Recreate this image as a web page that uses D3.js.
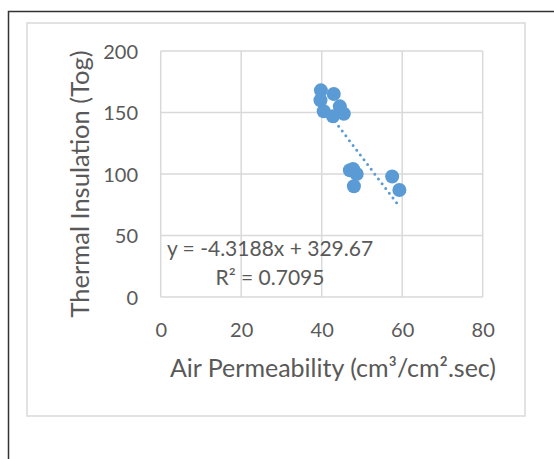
<!DOCTYPE html>
<html>
<head>
<meta charset="utf-8">
<script src="https://cdn.jsdelivr.net/npm/d3@7"></script>
<style>
  html, body { margin: 0; padding: 0; background: #fff; }
  svg { display: block; font-family: Lato, "Open Sans", sans-serif; }
</style>
</head>
<body>
<svg id="chart" width="554" height="459"></svg>
<script>
// Air permeability (cm³/cm².sec) vs thermal insulation (Tog)
const airPermeability = [39.8, 43.0, 39.7, 40.5, 44.5, 45.5, 42.8, 47.0, 47.8, 48.7, 48.0, 57.5, 59.3];
const thermalInsulation = [168, 165, 160, 151, 155, 149, 147, 103, 104, 100, 90, 98, 87];
const xTicks = [0, 20, 40, 60, 80];
const yTicks = [0, 50, 100, 150, 200];
// Linear trend line as stated in the label
const slope = -4.3188;
const intercept = 329.67;
const rSquared = 0.7095;

const svg = d3.select("#chart");
const textColor = "#595959";
const gridColor = "#d9d9d9";
const pointColor = "#5b9bd5";

// Outer frame
svg.append("path")
  .attr("d", "M8.5,470 L8.5,11.5 L560,11.5")
  .attr("fill", "none").attr("stroke", "#333").attr("stroke-width", 1.5);

// Chart area frame
svg.append("rect")
  .attr("x", 27).attr("y", 23).attr("width", 498).attr("height", 393)
  .attr("fill", "#fff").attr("stroke", gridColor).attr("stroke-width", 1.5);

const plot = { left: 160.7, right: 482.7, top: 51, bottom: 297 };
const x = d3.scaleLinear().domain([0, 80]).range([plot.left, plot.right]);
const y = d3.scaleLinear().domain([0, 200]).range([plot.bottom, plot.top]);

// Gridlines
svg.append("g").selectAll("line").data(xTicks).join("line")
  .attr("x1", d => x(d)).attr("x2", d => x(d))
  .attr("y1", plot.top).attr("y2", plot.bottom)
  .attr("stroke", gridColor).attr("stroke-width", 1.5);
svg.append("g").selectAll("line").data(yTicks).join("line")
  .attr("x1", plot.left).attr("x2", plot.right)
  .attr("y1", d => y(d)).attr("y2", d => y(d))
  .attr("stroke", gridColor).attr("stroke-width", 1.5);

// Axis tick labels
const xAxis = d3.axisBottom(x).tickValues(xTicks).tickSize(0).tickPadding(0);
const gx = svg.append("g").attr("transform", `translate(0,${plot.bottom + 33})`).call(xAxis);
gx.select(".domain").remove();
gx.selectAll("text").attr("font-size", 20).attr("fill", textColor)
  .attr("font-family", "Lato, sans-serif").attr("dy", "0.36em");

const yAxis = d3.axisLeft(y).tickValues(yTicks).tickSize(0).tickPadding(0);
const gy = svg.append("g").attr("transform", `translate(${138},0)`).call(yAxis);
gy.select(".domain").remove();
gy.selectAll("text").attr("font-size", 20).attr("fill", textColor)
  .attr("font-family", "Lato, sans-serif").attr("dy", "0.36em");

// Axis titles
svg.append("text")
  .attr("x", 333).attr("y", 368).attr("dy", "0.35em")
  .attr("text-anchor", "middle").attr("font-size", 25).attr("fill", textColor)
  .text("Air Permeability (cm³/cm².sec)");
svg.append("text")
  .attr("transform", "translate(80,184) rotate(-90)")
  .attr("dy", "0.35em")
  .attr("text-anchor", "middle").attr("font-size", 25.5).attr("fill", textColor)
  .text("Thermal Insulation (Tog)");

// Points
const data = airPermeability.map((v, i) => ({ x: v, y: thermalInsulation[i] }));
svg.append("g").selectAll("circle").data(data).join("circle")
  .attr("cx", d => x(d.x)).attr("cy", d => y(d.y)).attr("r", 7)
  .attr("fill", pointColor);

// Dotted trend line over the data range
const [xMin, xMax] = d3.extent(airPermeability);
svg.append("line")
  .attr("x1", x(xMin)).attr("y1", y(slope * xMin + intercept))
  .attr("x2", x(xMax)).attr("y2", y(slope * xMax + intercept))
  .attr("stroke", pointColor).attr("stroke-width", 3)
  .attr("stroke-linecap", "round").attr("stroke-dasharray", "0,6");

// Trend line equation
const eq = svg.append("text").attr("text-anchor", "middle")
  .attr("font-size", 21).attr("fill", textColor);
eq.append("tspan").attr("x", 270).attr("y", 249).attr("dy", "0.35em")
  .text(`y = ${slope}x + ${intercept}`);
eq.append("tspan").attr("x", 270).attr("y", 278).attr("dy", "0.35em")
  .text(`R² = ${rSquared}`);
</script>
</body>
</html>
